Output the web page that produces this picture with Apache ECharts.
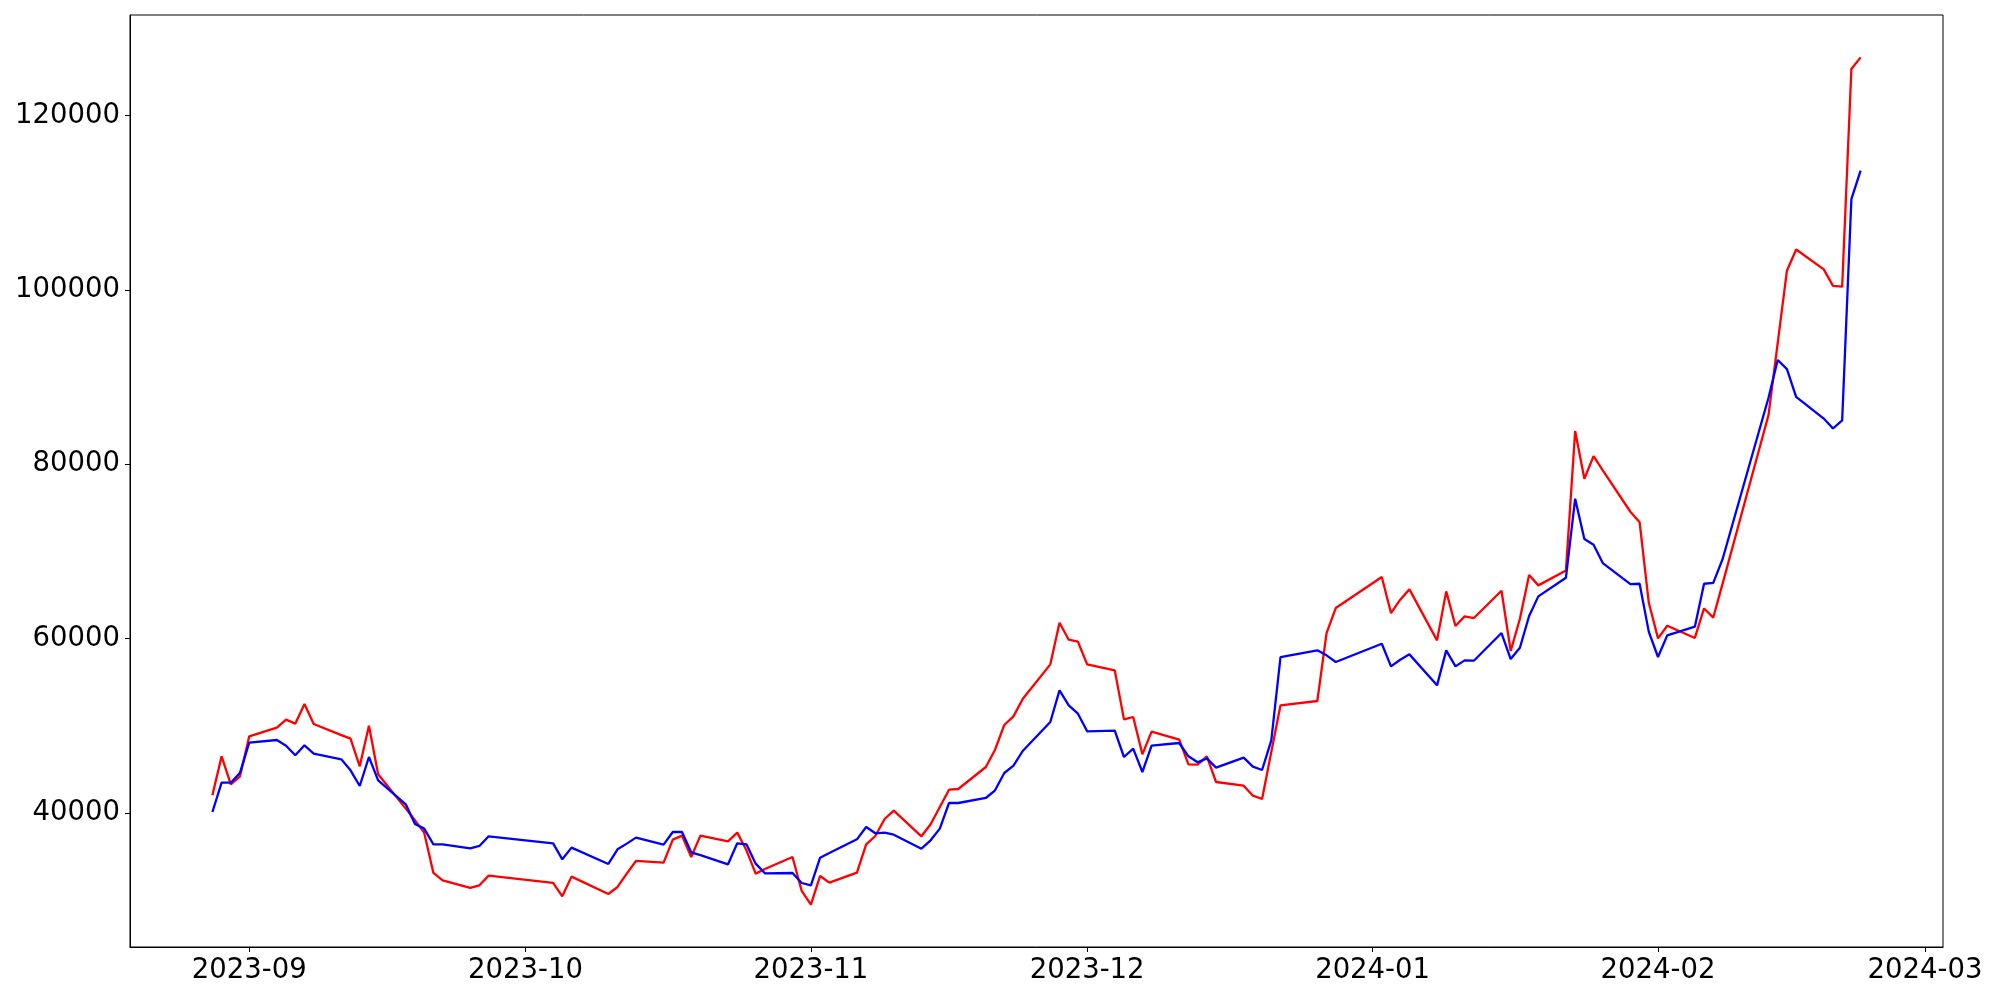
<!DOCTYPE html>
<html>
<head>
<meta charset="utf-8">
<script src="https://cdn.jsdelivr.net/npm/echarts@6/dist/echarts.min.js"></script>
<style>
html,body{margin:0;padding:0;background:#fff;}
#chart{width:2000px;height:1000px;}
</style>
</head>
<body>
<div id="chart"></div>
<script>
// Trading dates (KRX calendar)
const dates = [
'2023-08-28','2023-08-29','2023-08-30','2023-08-31','2023-09-01',
'2023-09-04','2023-09-05','2023-09-06','2023-09-07','2023-09-08',
'2023-09-11','2023-09-12','2023-09-13','2023-09-14','2023-09-15',
'2023-09-18','2023-09-19','2023-09-20','2023-09-21','2023-09-22',
'2023-09-25','2023-09-26','2023-09-27',
'2023-10-04','2023-10-05','2023-10-06',
'2023-10-10','2023-10-11','2023-10-12','2023-10-13',
'2023-10-16','2023-10-17','2023-10-18','2023-10-19','2023-10-20',
'2023-10-23','2023-10-24','2023-10-25','2023-10-26','2023-10-27',
'2023-10-30','2023-10-31','2023-11-01','2023-11-02','2023-11-03',
'2023-11-06','2023-11-07','2023-11-08','2023-11-09','2023-11-10',
'2023-11-13','2023-11-14','2023-11-15','2023-11-16','2023-11-17',
'2023-11-20','2023-11-21','2023-11-22','2023-11-23','2023-11-24',
'2023-11-27','2023-11-28','2023-11-29','2023-11-30','2023-12-01',
'2023-12-04','2023-12-05','2023-12-06','2023-12-07','2023-12-08',
'2023-12-11','2023-12-12','2023-12-13','2023-12-14','2023-12-15',
'2023-12-18','2023-12-19','2023-12-20','2023-12-21','2023-12-22',
'2023-12-26','2023-12-27','2023-12-28',
'2024-01-02','2024-01-03','2024-01-04','2024-01-05',
'2024-01-08','2024-01-09','2024-01-10','2024-01-11','2024-01-12',
'2024-01-15','2024-01-16','2024-01-17','2024-01-18','2024-01-19',
'2024-01-22','2024-01-23','2024-01-24','2024-01-25','2024-01-26',
'2024-01-29','2024-01-30','2024-01-31','2024-02-01','2024-02-02',
'2024-02-05','2024-02-06','2024-02-07','2024-02-08',
'2024-02-13','2024-02-14','2024-02-15','2024-02-16',
'2024-02-19','2024-02-20','2024-02-21','2024-02-22','2024-02-23'
];

const redValues = [
42012,46485,43274,44191,48779,
49773,50690,50232,52487,50193,
48912,48511,45338,50002,44420,
40483,39145,37730,33105,32264,
31384,31690,32799,
31958,30428,32684,
30696,31499,33028,34481,
34290,36928,37387,34940,37387,
36737,37731,35704,33028,33563,
34939,31040,29472,32760,31995,
33142,36392,37348,39297,40253,
37310,38686,40673,42661,42738,
45261,47249,50078,51072,53060,
57036,61815,59865,59636,57036,
56348,50728,50996,46714,49314,
48397,45567,45529,46485,43541,
43121,41974,41591,46982,52334,
52831,60630,63497,
67052,62923,64452,65637,
59788,65408,61432,62541,62350,
65484,58565,62273,67282,66096,
67816,83797,78330,80930,79286,
74542,73348,64096,60017,61460,
60067,63449,62405,66235,
85634,93915,102197,104634,
102346,100456,100357,125326,126669
];

const blueValues = [
40100,43465,43465,44612,48052,
48358,47708,46600,47747,46791,
46141,44879,43083,46409,43733,
40980,38724,38189,36393,36393,
35934,36202,37310,
36507,34672,36010,
34137,35819,36469,37157,
36354,37807,37807,35475,35150,
34099,36507,36393,34175,33066,
33104,31955,31689,34862,35398,
36965,38380,37653,37730,37500,
35894,36850,38188,41132,41132,
41706,42585,44573,45414,47096,
50422,54054,52334,51378,49352,
49429,46409,47364,44688,47708,
48014,46485,45797,46255,45185,
46332,45300,44917,48320,57877,
58642,58068,57304,
59406,56806,57571,58183,
54627,58641,56806,57494,57456,
60629,57647,58947,62579,64834,
66976,76036,71410,70761,68658,
66235,66285,60764,57879,60366,
61361,66285,66385,69071,
87623,91951,90906,87723,
85236,84092,85037,110404,113687
];

const xTickLabels = ['2023-09','2023-10','2023-11','2023-12','2024-01','2024-02','2024-03'];
const yTickValues = [40000,60000,80000,100000,120000];

const toTs = d => Date.parse(d + 'T00:00:00Z');
const ts = dates.map(toTs);
const xTicks = xTickLabels.map(m => toTs(m + '-01'));

const xSpan = ts[ts.length-1] - ts[0];
const xMin = ts[0] - 0.05 * xSpan;
const xMax = ts[ts.length-1] + 0.05 * xSpan;
const allV = redValues.concat(blueValues);
const vMin = Math.min.apply(null, allV), vMax = Math.max.apply(null, allV);
const ySpan = vMax - vMin;
const yMin = vMin - 0.05 * ySpan;
const yMax = vMax + 0.05 * ySpan;

const fmtMonth = v => {
  const d = new Date(v);
  const m = d.getUTCMonth() + 1;
  return d.getUTCFullYear() + '-' + (m < 10 ? '0' + m : m);
};

const labelStyle = {fontFamily: 'DejaVu Sans', fontSize: 27.5, color: '#000'};

const chart = echarts.init(document.getElementById('chart'), null, {renderer: 'canvas'});
chart.setOption({
  animation: false,
  backgroundColor: '#fff',
  grid: {
    left: 130, right: 57, top: 15, bottom: 53,
    containLabel: false, outerBoundsMode: 'none',
    show: true, borderColor: '#000', borderWidth: 1, backgroundColor: 'transparent'
  },
  xAxis: {
    type: 'value', min: xMin, max: xMax,
    splitLine: {show: false},
    axisLine: {show: true, onZero: false, lineStyle: {color: '#000', width: 1}},
    axisTick: {show: true, length: 5, inside: false, customValues: xTicks, lineStyle: {color: '#000', width: 1}},
    axisLabel: Object.assign({show: true, margin: 10, customValues: xTicks, formatter: fmtMonth}, labelStyle)
  },
  yAxis: {
    type: 'value', min: yMin, max: yMax,
    splitLine: {show: false},
    axisLine: {show: true, onZero: false, lineStyle: {color: '#000', width: 1}},
    axisTick: {show: true, length: 5, inside: false, customValues: yTickValues, lineStyle: {color: '#000', width: 1}},
    axisLabel: Object.assign({show: true, margin: 10, customValues: yTickValues, formatter: v => String(v)}, labelStyle)
  },
  series: [
    {
      name: 'red', type: 'line', showSymbol: false, symbol: 'none',
      lineStyle: {color: '#ff0000', width: 2.3},
      data: ts.map((t, i) => [t, redValues[i]])
    },
    {
      name: 'blue', type: 'line', showSymbol: false, symbol: 'none',
      lineStyle: {color: '#0000ff', width: 2.3},
      data: ts.map((t, i) => [t, blueValues[i]])
    }
  ]
});
</script>
</body>
</html>
